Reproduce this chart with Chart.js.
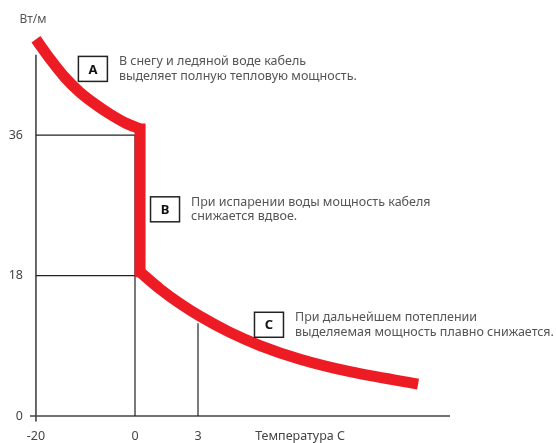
<!DOCTYPE html>
<html><head><meta charset="utf-8">
<script src="https://cdn.jsdelivr.net/npm/chart.js@4.4.0/dist/chart.umd.min.js"></script>
<style>html,body{margin:0;padding:0;background:#fff}</style>
</head><body>
<canvas id="c" width="556" height="443"></canvas>
<script>
// ---- data ----
// stage A: full power (snow / ice water)
const iceTemps = [-20, -17.17, -14.14, -11.11, -8.08, -5.05, -2.02, 0.24];
const icePower = [48.3, 45.8, 43.4, 41.5, 40.0, 38.7, 37.6, 36.8];
// stage B: evaporation, power halves
const dropTemps = [0.24, 0.24];
const dropPower = [36.8, 18.5];
// stage C: further warming
const warmTemps = [0.24, 1.19, 2.14, 3.10, 4.52, 5.95, 7.86, 10.24, 13.48];
const warmPower = [18.46, 16.29, 14.42, 12.78, 10.72, 9.04, 7.28, 5.68, 4.1];
const xTickTemps = [-20, 0, 3];
const xTickLabels = ['-20', '0', '3'];
const xAxisTitle = 'Температура С';
const yTicks = [0, 18, 36];
const yUnit = 'Вт/м';
const fullPower = 36;
const halfPower = 18;
const meltTemp = 0;
const warmTemp = 3;
const powerAtWarm = 11.9;
const noteLetters = ['A', 'B', 'C'];
const noteLines = [
  ['В снегу и ледяной воде кабель', 'выделяет полную тепловую мощность.'],
  ['При испарении воды мощность кабеля', 'снижается вдвое.'],
  ['При дальнейшем потеплении', 'выделяемая мощность плавно снижается.']
];
const noteTemps = [-8.5, 1.43, 6.38];
const notePower = [44.5, 26.5, 11.7];

// ---- schematic axis: positive temperatures are drawn stretched ----
const STRETCH = 4.24;
const pos = t => (t <= 0 ? t : t * STRETCH);
const X_MIN_T = -21.2, X_MAX_T = 15, Y_MIN = -0.7, Y_MAX = 50, Y_AXIS_TOP = 46.3;
const xTitleTemp = 7.86;

const pts = (ts, vs) => ts.map((t, i) => ({x: pos(t), y: vs[i]}));
const FONT = '"Noto Sans", "DejaVu Sans", sans-serif';
const RED = '#ED1C24';

const annot = {
  id: 'annot',
  afterDatasetsDraw(chart) {
    const {ctx, scales: {x, y}, chartArea} = chart;
    ctx.save();
    ctx.fillStyle = '#555';
    ctx.font = '12px ' + FONT;
    ctx.textAlign = 'center';
    ctx.textBaseline = 'middle';
    ctx.fillText(yUnit, x.getPixelForValue(pos(-20)) - 3, chartArea.top - 6);
    noteLetters.forEach((L, i) => {
      const cx = x.getPixelForValue(pos(noteTemps[i]));
      const cy = y.getPixelForValue(notePower[i]);
      const w = 29, h = 25;
      ctx.fillStyle = '#fff';
      ctx.fillRect(cx - w / 2, cy - h / 2, w, h);
      ctx.strokeStyle = '#222';
      ctx.lineWidth = 1.5;
      ctx.strokeRect(cx - w / 2, cy - h / 2, w, h);
      ctx.fillStyle = '#111';
      ctx.font = 'bold 13px ' + FONT;
      ctx.textAlign = 'center';
      ctx.fillText(L, cx, cy + 1);
      ctx.fillStyle = '#555';
      ctx.font = '12.5px ' + FONT;
      ctx.textAlign = 'left';
      noteLines[i].forEach((s, j) => ctx.fillText(s, cx + 26, cy - 7 + j * 14.5));
    });
    ctx.restore();
  }
};

const curve = {borderColor: RED, borderWidth: 11, pointRadius: 0, cubicInterpolationMode: 'monotone',
               tension: 0.4, borderCapStyle: 'butt', fill: false, clip: false};
const guide = {borderColor: '#222', borderWidth: 1.2, pointRadius: 0, tension: 0, fill: false, clip: false};
const axisLine = {borderColor: '#444', borderWidth: 1.6, pointRadius: 0, tension: 0, fill: false, clip: false};

new Chart(document.getElementById('c'), {
  type: 'line',
  data: {
    datasets: [
      Object.assign({data: pts(iceTemps, icePower)}, curve),
      {data: pts(dropTemps, dropPower), borderColor: RED, borderWidth: 11, pointRadius: 0, tension: 0,
       borderCapStyle: 'square', fill: false, clip: false},
      Object.assign({data: pts(warmTemps, warmPower)}, curve),
      Object.assign({data: pts([-20, meltTemp, meltTemp], [fullPower, fullPower, 0])}, guide),
      Object.assign({data: pts([-20, meltTemp], [halfPower, halfPower])}, guide),
      Object.assign({data: pts([warmTemp, warmTemp], [0, powerAtWarm])}, guide),
      Object.assign({data: pts([X_MIN_T, X_MAX_T], [0, 0])}, axisLine),
      Object.assign({data: pts([-20, -20], [Y_MIN, Y_AXIS_TOP])}, axisLine)
    ]
  },
  options: {
    responsive: false,
    devicePixelRatio: 1,
    animation: false,
    layout: {padding: {top: 26, right: 106, left: 0, bottom: 0}},
    plugins: {legend: {display: false}, tooltip: {enabled: false}},
    scales: {
      x: {
        type: 'linear', min: pos(X_MIN_T), max: pos(X_MAX_T),
        grid: {display: false, drawTicks: false}, border: {display: false},
        afterBuildTicks: s => { s.ticks = xTickTemps.map(t => ({value: pos(t)})).concat([{value: pos(xTitleTemp)}]); },
        afterFit: s => { s.height = 21.5; },
        ticks: {
          autoSkip: false, maxRotation: 0, padding: 7, color: '#444',
          font: {family: FONT, size: 12.5},
          callback: (v, i) => (i < xTickLabels.length ? xTickLabels[i] : xAxisTitle)
        }
      },
      y: {
        type: 'linear', min: Y_MIN, max: Y_MAX,
        grid: {display: false, drawTicks: false}, border: {display: false},
        afterBuildTicks: s => { s.ticks = yTicks.map(v => ({value: v})); },
        afterFit: s => { s.width = 30; },
        ticks: {padding: 7, color: '#444', font: {family: FONT, size: 12.5}, callback: v => String(v)}
      }
    }
  },
  plugins: [annot]
});
</script>
</body></html>
